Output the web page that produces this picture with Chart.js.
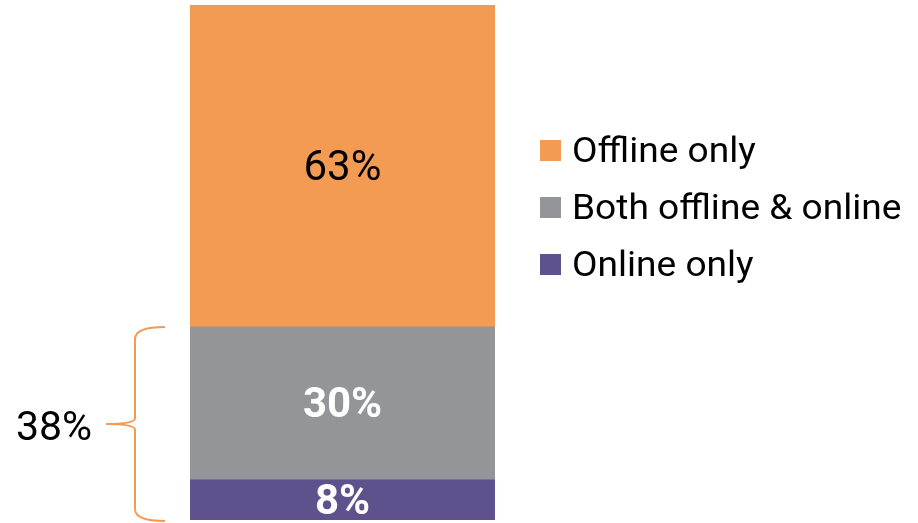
<!DOCTYPE html>
<html>
<head>
<meta charset="utf-8">
<script src="https://cdn.jsdelivr.net/npm/chart.js@4/dist/chart.umd.min.js"></script>
<style>
  html, body { margin: 0; padding: 0; background: #fff; }
  #wrap { width: 918px; height: 523px; }
</style>
</head>
<body>
<div id="wrap"><canvas id="myChart" width="918" height="523"></canvas></div>
<script>
// data
const categories = ["Shoppers"];
const seriesNames = ["Online only", "Both offline & online", "Offline only"];
const onlineOnly = [7.8];
const bothChannels = [29.7];
const offlineOnly = [62.5];
const seriesColors = ["#5F528C", "#939598", "#F39B53"];
const labelColors = ["#ffffff", "#ffffff", "#000000"];
const labelWeights = ["bold", "bold", "normal"];

const FONT = "Roboto, 'Noto Sans', sans-serif";

// labels inside the bar segments
const segmentLabels = {
  id: "segmentLabels",
  afterDatasetsDraw(chart) {
    const ctx = chart.ctx;
    ctx.save();
    ctx.textAlign = "center";
    ctx.textBaseline = "alphabetic";
    chart.data.datasets.forEach((ds, i) => {
      const bar = chart.getDatasetMeta(i).data[0];
      const mid = (bar.y + bar.base) / 2;
      ctx.fillStyle = labelColors[i];
      ctx.font = labelWeights[i] + " 42px " + FONT;
      ctx.fillText(Math.round(ds.data[0]) + "%", bar.x, mid + 14);
    });
    ctx.restore();
  },
};

// legend on the right, top series first
const sideLegend = {
  id: "sideLegend",
  afterDraw(chart) {
    const ctx = chart.ctx;
    ctx.save();
    ctx.font = "35px " + FONT;
    ctx.textBaseline = "alphabetic";
    const rows = chart.data.datasets.slice().reverse();
    rows.forEach((ds, k) => {
      const cy = 150.5 + k * 57;
      ctx.fillStyle = ds.backgroundColor;
      ctx.fillRect(540, cy - 10.5, 21, 21);
      ctx.fillStyle = "#000";
      ctx.save();
      ctx.translate(572, cy + 11.5);
      ctx.scale(1.06, 1);
      ctx.fillText(ds.label, 0, 0);
      ctx.restore();
    });
    ctx.restore();
  },
};

// brace around the two lower segments
const brace = {
  id: "brace",
  afterDraw(chart) {
    const ctx = chart.ctx;
    const y = chart.scales.y;
    const sum = onlineOnly[0] + bothChannels[0];
    const top = y.getPixelForValue(sum);
    const bot = y.getPixelForValue(0) + 1;
    const mid = (top + bot) / 2;
    const xr = 165, xv = 135, xt = 106;
    ctx.save();
    ctx.strokeStyle = "#F39B53";
    ctx.lineWidth = 2;
    ctx.beginPath();
    ctx.moveTo(xr, top);
    ctx.quadraticCurveTo(xv, top, xv, top + 12);
    ctx.lineTo(xv, mid - 6);
    ctx.quadraticCurveTo(xv, mid, xt, mid);
    ctx.quadraticCurveTo(xv, mid, xv, mid + 6);
    ctx.lineTo(xv, bot - 12);
    ctx.quadraticCurveTo(xv, bot, xr, bot);
    ctx.stroke();
    ctx.fillStyle = "#000";
    ctx.font = "41px " + FONT;
    ctx.textAlign = "right";
    ctx.textBaseline = "alphabetic";
    ctx.fillText(Math.round(sum) + "%", 92, 440);
    ctx.restore();
  },
};

const data = {
  labels: categories,
  datasets: [
    { label: seriesNames[0], data: onlineOnly, backgroundColor: seriesColors[0] },
    { label: seriesNames[1], data: bothChannels, backgroundColor: seriesColors[1] },
    { label: seriesNames[2], data: offlineOnly, backgroundColor: seriesColors[2] },
  ],
};

const config = {
  type: "bar",
  data,
  options: {
    responsive: false,
    animation: false,
    layout: { padding: { left: 190, right: 423, top: 5, bottom: 3 } },
    datasets: { bar: { barPercentage: 1, categoryPercentage: 1, borderWidth: 0 } },
    plugins: { legend: { display: false }, tooltip: { enabled: false } },
    scales: {
      x: { stacked: true, display: false },
      y: {
        stacked: true,
        display: false,
        min: 0,
        max: onlineOnly[0] + bothChannels[0] + offlineOnly[0],
      },
    },
  },
  plugins: [segmentLabels, sideLegend, brace],
};

const myChart = new Chart(document.getElementById("myChart"), config);
</script>
</body>
</html>
